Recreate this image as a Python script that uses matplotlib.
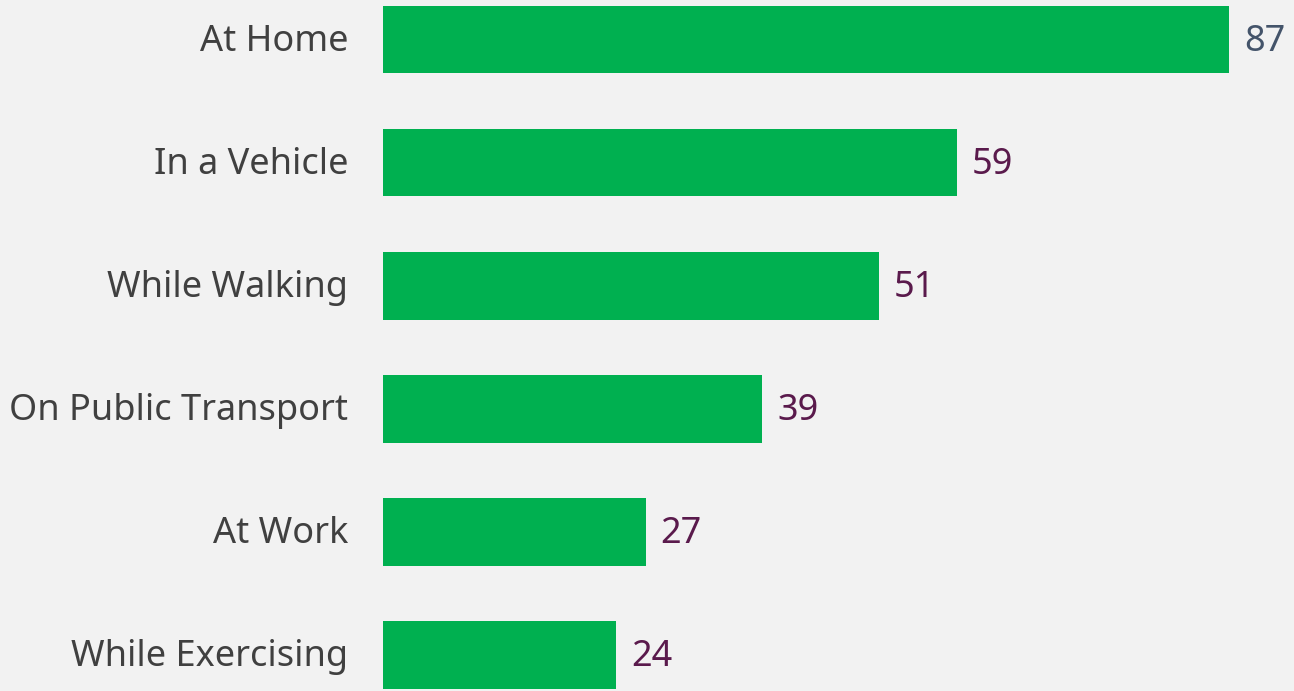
import matplotlib.pyplot as plt
from matplotlib import rcParams

rcParams['font.family'] = ['Noto Sans', 'DejaVu Sans']

categories = ['At Home', 'In a Vehicle', 'While Walking', 'On Public Transport', 'At Work', 'While Exercising']
values = [87, 59, 51, 39, 27, 24]
label_colors = ['#44546A', '#5A1A4C', '#5A1A4C', '#5A1A4C', '#5A1A4C', '#5A1A4C']

bg = '#F2F2F2'
fig = plt.figure(figsize=(12.94, 6.91), dpi=100, facecolor=bg)
ax = fig.add_axes([383 / 1294, 0, 1 - 383 / 1294, 1], facecolor=bg)

y = list(range(len(categories)))
ax.barh(y, values, height=0.55, color='#00B050')

px_per_unit = (1229 - 383) / 87
ax.set_xlim(0, (1294 - 383) / px_per_unit)
ax.set_ylim(5 + 36 / 123.1, -39.5 / 123.1)

# labels sit a touch lower than plain va='center'
dy = 0.02
for i, v in enumerate(values):
    ax.text(v + 15 / px_per_unit, i + dy, str(v), va='center', ha='left',
            fontsize=26, color=label_colors[i])

for i, c in enumerate(categories):
    ax.text(-35 / px_per_unit, i + dy, c, va='center', ha='right',
            fontsize=26, color='#404040', clip_on=False)

ax.axis('off')
fig.savefig('out.png', dpi=100, facecolor=bg)
